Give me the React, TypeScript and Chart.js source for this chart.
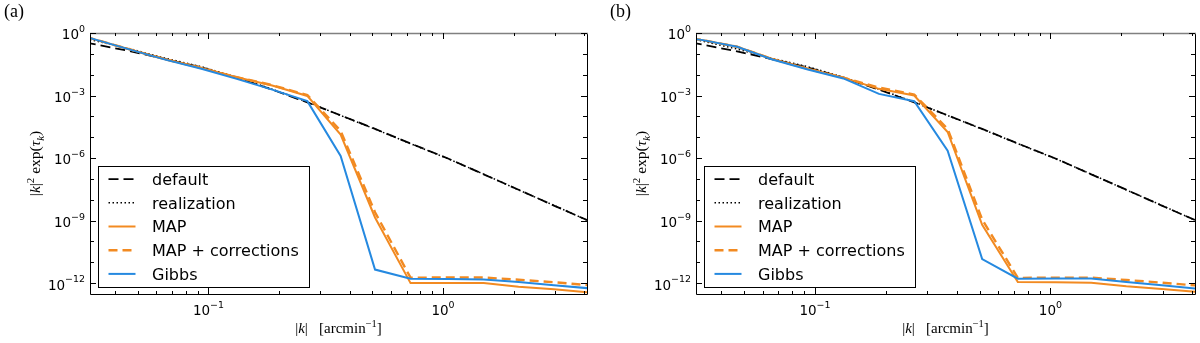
import React, { useEffect, useRef } from 'react';
import { Chart, registerables } from 'chart.js';

Chart.register(...registerables);

// ---------------- data ----------------
const kValues = [0.03, 0.033, 0.0467, 0.066, 0.0933, 0.132, 0.187, 0.264, 0.366, 0.513, 0.727, 1.05, 1.49, 2.1, 2.97, 4.2];

const defaultSpectrum = [0.347, 0.282, 0.132, 0.055, 0.0224, 0.00708, 0.00191, 4.68e-4, 1.12e-4, 2.51e-5, 5.01e-6, 9.55e-7, 1.66e-7, 3.02e-8, 5.25e-9, 9.55e-10];
const realization = [0.5, 0.42, 0.17, 0.0603, 0.024, 0.00759, 0.002, 4.9e-4, 1.1e-4, 2.45e-5, 4.9e-6, 9.33e-7, 1.7e-7, 2.95e-8, 5.37e-9, 9.33e-10];

const mapA = [0.661, 0.479, 0.158, 0.0537, 0.0209, 0.00759, 0.00302, 9.55e-4, 1.35e-5, 1.41e-9, 1e-12, 1e-12, 1e-12, 6.76e-13, 5.01e-13, 3.55e-13];
const mapCorrA = [0.661, 0.479, 0.158, 0.0537, 0.0209, 0.00759, 0.00316, 0.00105, 2e-5, 2.51e-9, 1.82e-12, 1.86e-12, 1.86e-12, 1.45e-12, 1.1e-12, 7.94e-13];
const gibbsA = [0.661, 0.479, 0.155, 0.0513, 0.0191, 0.00631, 0.00191, 5.37e-4, 1.26e-6, 4.47e-12, 1.62e-12, 1.58e-12, 1.48e-12, 1.12e-12, 7.94e-13, 5.62e-13];

const mapB = [0.537, 0.468, 0.219, 0.0562, 0.0191, 0.00724, 0.00209, 0.001, 1.78e-5, 6.31e-10, 1.12e-12, 1.1e-12, 1.05e-12, 7.08e-13, 5.25e-13, 3.8e-13];
const mapCorrB = [0.537, 0.468, 0.219, 0.0562, 0.0191, 0.00724, 0.0024, 0.00112, 2.51e-5, 1.12e-9, 1.78e-12, 1.82e-12, 1.82e-12, 1.41e-12, 1.05e-12, 7.59e-13];
const gibbsB = [0.537, 0.468, 0.219, 0.0537, 0.0178, 0.0066, 0.0012, 5.37e-4, 2.24e-6, 1.41e-11, 1.62e-12, 1.66e-12, 1.66e-12, 1.12e-12, 7.94e-13, 5.37e-13];

const seriesLabels = ['default', 'realization', 'MAP', 'MAP + corrections', 'Gibbs'];

const xRange = [0.03126, 4.11];
const yRange = [3.09e-13, 1];
const yLabelExponents = [0, -3, -6, -9, -12];
const yMinorExponents = [-1, -2, -4, -5, -7, -8, -10, -11];
const xLabelExponents = [-1, 0];
const xMinorTicks = [0.04, 0.05, 0.06, 0.07, 0.08, 0.09, 0.2, 0.3, 0.4, 0.5, 0.6, 0.7, 0.8, 0.9, 2, 3, 4];

// ---------------- styles ----------------
const ORANGE = '#f28a21';
const BLUE = '#2589e0';
const SANS = '"DejaVu Sans"';
const SERIF = '"Liberation Serif"';

type Run = { t: string; i?: boolean; s?: number; dy?: number };

function drawRuns(ctx: CanvasRenderingContext2D, runs: Run[], x: number, y: number, size: number, family: string, align: 'left' | 'right' | 'center') {
  const parts = runs.map((r) => {
    const fs = size * (r.s ?? 1);
    const font = `${r.i ? 'italic ' : ''}${fs}px ${family}`;
    ctx.font = font;
    return { t: r.t, font, w: ctx.measureText(r.t).width, dy: (r.dy ?? 0) * size };
  });
  const total = parts.reduce((a, p) => a + p.w, 0);
  let cx = align === 'right' ? x - total : align === 'center' ? x - total / 2 : x;
  ctx.textAlign = 'left';
  ctx.textBaseline = 'alphabetic';
  for (const p of parts) {
    ctx.font = p.font;
    ctx.fillText(p.t, cx, y + p.dy);
    cx += p.w;
  }
}

function powRuns(e: number): Run[] {
  const s = e < 0 ? '\u2212' + String(-e) : String(e);
  return [{ t: '10' }, { t: s, s: 0.7, dy: -0.55 }];
}

function makeDecor(panelLabel: string, labelX: number) {
  return {
    id: 'decor-' + panelLabel,
    afterDatasetsDraw(chart: any) {
      const ctx: CanvasRenderingContext2D = chart.ctx;
      const { left: L, right: R, top: T, bottom: B } = chart.chartArea;
      const xs = chart.scales.x;
      const ys = chart.scales.y;
      ctx.save();
      // frame
      ctx.lineWidth = 1;
      ctx.strokeStyle = '#000';
      ctx.beginPath();
      ctx.moveTo(L + 0.5, T);
      ctx.lineTo(L + 0.5, B + 0.5);
      ctx.lineTo(R + 0.5, B + 0.5);
      ctx.lineTo(R + 0.5, T);
      ctx.stroke();
      ctx.strokeStyle = '#808080';
      ctx.lineWidth = 1.5;
      ctx.beginPath();
      ctx.moveTo(L, T + 0.5);
      ctx.lineTo(R + 1, T + 0.5);
      ctx.stroke();
      // ticks
      ctx.strokeStyle = '#000';
      ctx.lineWidth = 1;
      const vTick = (v: number, len: number) => {
        const px = Math.round(xs.getPixelForValue(v)) + 0.5;
        ctx.beginPath();
        ctx.moveTo(px, B);
        ctx.lineTo(px, B - len);
        ctx.moveTo(px, T);
        ctx.lineTo(px, T + len);
        ctx.stroke();
      };
      const hTick = (v: number, len: number) => {
        const py = Math.round(ys.getPixelForValue(v)) + 0.5;
        ctx.beginPath();
        ctx.moveTo(L, py);
        ctx.lineTo(L + len, py);
        ctx.moveTo(R, py);
        ctx.lineTo(R - len, py);
        ctx.stroke();
      };
      xLabelExponents.forEach((e) => vTick(Math.pow(10, e), 6));
      xMinorTicks.forEach((v) => vTick(v, 3));
      yLabelExponents.forEach((e) => hTick(Math.pow(10, e), 6));
      yMinorExponents.forEach((e) => hTick(Math.pow(10, e), 4));
      // tick labels
      ctx.fillStyle = '#000';
      yLabelExponents.forEach((e) => {
        const py = ys.getPixelForValue(Math.pow(10, e));
        drawRuns(ctx, powRuns(e), L - 5, py + 6.4, 13.5, SANS, 'right');
      });
      xLabelExponents.forEach((e) => {
        const px = xs.getPixelForValue(Math.pow(10, e));
        drawRuns(ctx, powRuns(e), px, B + 21, 13.5, SANS, 'center');
      });
      // axis titles
      drawRuns(
        ctx,
        [{ t: '|' }, { t: 'k', i: true }, { t: '|' }, { t: '   [arcmin' }, { t: '\u22121', s: 0.7, dy: -0.4 }, { t: ']' }],
        (L + R) / 2,
        B + 39,
        15,
        SERIF,
        'center'
      );
      ctx.save();
      ctx.translate(L - 50, (T + B) / 2);
      ctx.rotate(-Math.PI / 2);
      drawRuns(
        ctx,
        [{ t: '|' }, { t: 'k', i: true }, { t: '|' }, { t: '2', s: 0.7, dy: -0.4 }, { t: ' exp(' }, { t: '\u03c4', i: true }, { t: 'k', i: true, s: 0.7, dy: 0.25 }, { t: ')' }],
        0,
        0,
        15.5,
        SERIF,
        'center'
      );
      ctx.restore();
      // panel label
      ctx.font = `18px ${SERIF}`;
      ctx.textAlign = 'left';
      ctx.textBaseline = 'alphabetic';
      ctx.fillText(panelLabel, labelX, 17);
      // legend
      const lx = L + 8.5;
      const lw = 211;
      const lh = 121;
      const ly = B - 7 - lh + 0.5;
      ctx.fillStyle = '#fff';
      ctx.fillRect(lx, ly, lw, lh);
      ctx.strokeStyle = '#000';
      ctx.lineWidth = 1;
      ctx.strokeRect(lx, ly, lw, lh);
      chart.data.datasets.forEach((ds: any, i: number) => {
        const cy = ly + 12.6 + i * 23.7;
        ctx.beginPath();
        ctx.strokeStyle = ds.borderColor;
        ctx.lineWidth = ds.borderWidth;
        ctx.setLineDash(ds.borderDash || []);
        ctx.moveTo(lx + 10, cy);
        ctx.lineTo(lx + 37, cy);
        ctx.stroke();
        ctx.setLineDash([]);
        ctx.fillStyle = '#000';
        ctx.font = `16px ${SANS}`;
        ctx.textAlign = 'left';
        ctx.textBaseline = 'alphabetic';
        ctx.fillText(seriesLabels[i], lx + 53.5, cy + 5.8);
      });
      ctx.restore();
    },
  };
}

function buildDatasets(mapVals: number[], mapCorrVals: number[], gibbsVals: number[]) {
  const pts = (vals: number[]) => kValues.map((k, i) => ({ x: k, y: vals[i] }));
  const common = { pointRadius: 0, fill: false, tension: 0 };
  return [
    { ...common, label: seriesLabels[0], data: pts(defaultSpectrum), borderColor: '#000', borderWidth: 1.8, borderDash: [10, 5], order: 5 },
    { ...common, label: seriesLabels[1], data: pts(realization), borderColor: '#000', borderWidth: 1.5, borderDash: [1.5, 2.5], order: 4 },
    { ...common, label: seriesLabels[2], data: pts(mapVals), borderColor: ORANGE, borderWidth: 2, order: 3 },
    { ...common, label: seriesLabels[3], data: pts(mapCorrVals), borderColor: ORANGE, borderWidth: 2.4, borderDash: [9, 5], order: 2 },
    { ...common, label: seriesLabels[4], data: pts(gibbsVals), borderColor: BLUE, borderWidth: 2, order: 1 },
  ];
}

function Panel(props: { label: string; labelX: number; padLeft: number; padRight: number; map: number[]; mapCorr: number[]; gibbs: number[] }) {
  const ref = useRef<HTMLCanvasElement | null>(null);
  useEffect(() => {
    if (!ref.current) return;
    const chart = new Chart(ref.current, {
      type: 'line',
      data: { datasets: buildDatasets(props.map, props.mapCorr, props.gibbs) as any },
      options: {
        animation: false,
        responsive: false,
        devicePixelRatio: 1,
        layout: { padding: { left: props.padLeft, right: props.padRight, top: 33, bottom: 49 } },
        scales: {
          x: { type: 'logarithmic', min: xRange[0], max: xRange[1], display: false },
          y: { type: 'logarithmic', min: yRange[0], max: yRange[1], display: false },
        },
        plugins: { legend: { display: false }, tooltip: { enabled: false } },
      },
      plugins: [makeDecor(props.label, props.labelX)],
    } as any);
    return () => chart.destroy();
  }, []);
  return <canvas ref={ref} width={600} height={343} style={{ display: 'block', width: 600, height: 343 }} />;
}

export default function App() {
  useEffect(() => {
    document.body.style.margin = '0';
    document.body.style.background = '#fff';
  }, []);
  return (
    <div style={{ display: 'flex', width: 1200, height: 343, background: '#fff' }}>
      <Panel label="(a)" labelX={4} padLeft={90} padRight={13} map={mapA} mapCorr={mapCorrA} gibbs={gibbsA} />
      <Panel label="(b)" labelX={10} padLeft={96} padRight={5} map={mapB} mapCorr={mapCorrB} gibbs={gibbsB} />
    </div>
  );
}
